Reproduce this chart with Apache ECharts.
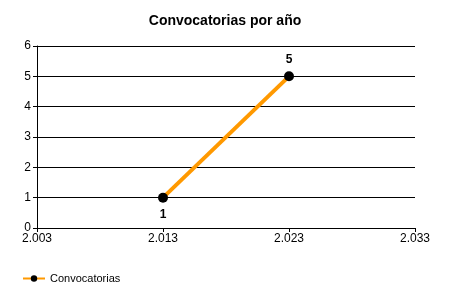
<!DOCTYPE html>
<html>
<head>
<meta charset="utf-8">
<script src="https://cdn.jsdelivr.net/npm/echarts@6/dist/echarts.min.js"></script>
<style>
  html, body { margin: 0; padding: 0; background: #fff; }
  #chart { width: 450px; height: 300px; }
</style>
</head>
<body>
<div id="chart"></div>
<script>
// datos
var years = [2013, 2023];
var convocatorias = [1, 5];
var labelPos = ['bottom', 'top'];
var seriesName = 'Convocatorias';

var fontFamily = 'Liberation Sans, Arial, sans-serif';

// 2003 -> "2.003"
function miles(v) {
  var s = String(Math.round(v));
  return s.replace(/\B(?=(\d{3})+(?!\d))/g, '.');
}

var myChart = echarts.init(document.getElementById('chart'), null, { renderer: 'canvas' });

var option = {
  animation: false,
  backgroundColor: '#fff',
  title: {
    text: 'Convocatorias por año',
    left: 'center',
    top: 9,
    textStyle: { fontFamily: fontFamily, fontSize: 14, fontWeight: 'bold', color: '#000' }
  },
  legend: {
    left: 17,
    top: 268,
    itemWidth: 22,
    itemHeight: 8,
    itemGap: 6,
    textStyle: { fontFamily: fontFamily, fontSize: 11, color: '#000' },
    data: [seriesName]
  },
  grid: { left: 37, right: 35, top: 46, bottom: 72 },
  xAxis: {
    type: 'value',
    min: 2003,
    max: 2033,
    interval: 10,
    axisLine: { lineStyle: { color: '#000', width: 1 } },
    axisTick: { show: true, length: 4, lineStyle: { color: '#000' } },
    splitLine: { show: false },
    axisLabel: {
      formatter: miles,
      color: '#000',
      fontFamily: fontFamily,
      fontSize: 12,
      margin: 5
    }
  },
  yAxis: {
    type: 'value',
    min: 0,
    max: 6,
    interval: 1,
    axisLine: { show: true, lineStyle: { color: '#000', width: 1 } },
    axisTick: { show: true, length: 4, lineStyle: { color: '#000' } },
    splitLine: { show: true, lineStyle: { color: '#000', width: 1 } },
    axisLabel: { color: '#000', fontFamily: fontFamily, fontSize: 12, margin: 6 }
  },
  series: [{
    name: seriesName,
    type: 'line',
    // la etiqueta del primer punto va debajo
    data: years.map(function (y, i) {
      return {
        value: [y, convocatorias[i]],
        label: { position: labelPos[i], distance: 6 }
      };
    }),
    symbol: 'circle',
    symbolSize: 10,
    itemStyle: { color: '#000' },
    lineStyle: { color: '#FF9900', width: 4 },
    label: {
      show: true,
      fontFamily: fontFamily,
      fontSize: 12,
      fontWeight: 'bold',
      color: '#000'
    }
  }]
};

myChart.setOption(option);
</script>
</body>
</html>
